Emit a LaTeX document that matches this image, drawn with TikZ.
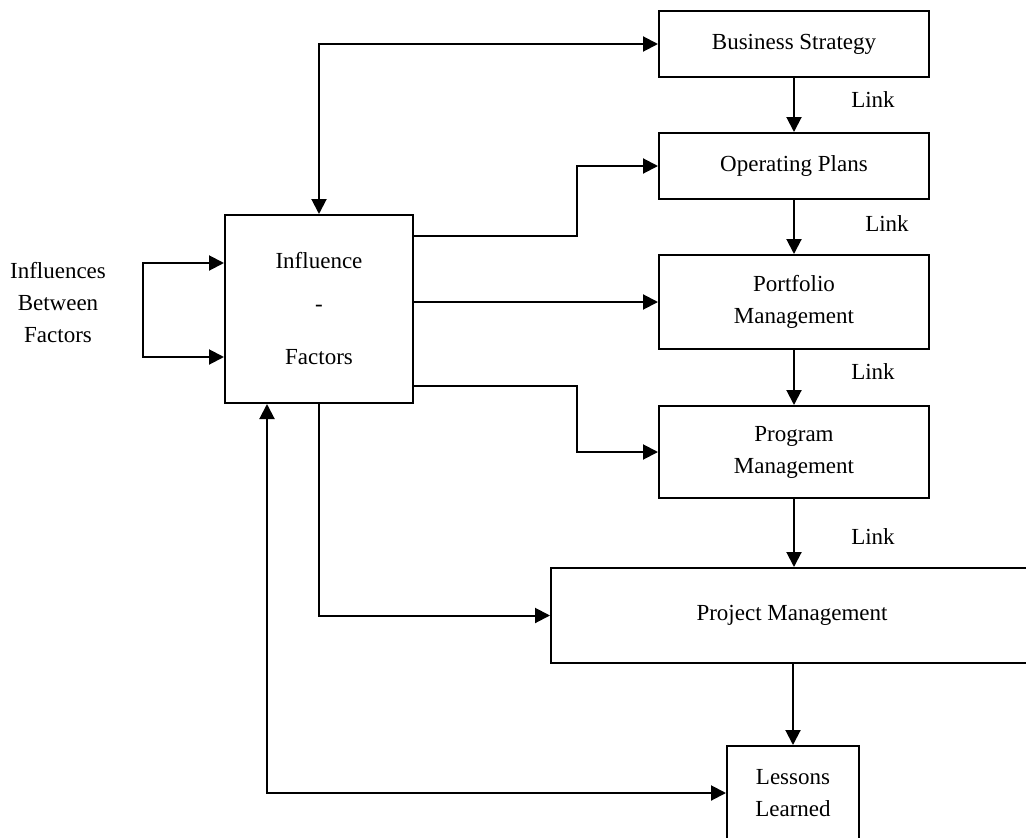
\documentclass[tikz,border=0pt]{standalone}
\usepackage{fontspec}
\setmainfont{Liberation Serif}
\usetikzlibrary{arrows.meta}
\begin{document}
\begin{tikzpicture}[x=1pt,y=-1pt,
  every node/.style={font=\fontsize{23}{32}\selectfont},
  box/.style={draw,line width=2pt,align=center,inner sep=0pt},
  lbl/.style={align=center,inner sep=0pt},
  conn/.style={line width=2pt},
  tip/.style={-{Triangle[length=15pt,width=15pt]}},
  tips/.style={{Triangle[length=15pt,width=15pt]}-{Triangle[length=15pt,width=15pt]}}]
\useasboundingbox (0,0) rectangle (1026,838);

% main chain of planning levels
\node[box,minimum width=270pt,minimum height=66pt] (bs) at (794,44) {Business Strategy};
\node[box,minimum width=270pt,minimum height=66pt] (op) at (794,166) {Operating Plans};
\node[box,minimum width=270pt,minimum height=94pt] (pf) at (794,302) {Portfolio\\Management};
\node[box,minimum width=270pt,minimum height=92pt] (pg) at (794,452) {Program\\Management};
\node[box,minimum width=482pt,minimum height=95pt] (pj) at (792,615.5) {Project Management};
\node[box,minimum width=132pt,minimum height=94pt] (ll) at (793,793) {Lessons\\Learned};

% influence factors block
\node[box,minimum width=188pt,minimum height=188pt] (inf) at (319,309) {Influence\\[11pt]-\\[21pt]Factors};
\node[lbl] (ibf) at (58,303) {Influences\\Between\\Factors};

% link labels
\node[lbl] (l1) at (873,100) {Link};
\node[lbl] (l2) at (887,224) {Link};
\node[lbl] (l3) at (873,372) {Link};
\node[lbl] (l4) at (873,537) {Link};

% vertical links
\draw[conn,tip] (bs.south) -- (op.north);
\draw[conn,tip] (op.south) -- (pf.north);
\draw[conn,tip] (pf.south) -- (pg.north);
\draw[conn,tip] (pg.south) -- (pg.south |- pj.north);
\draw[conn,tip] (ll.north |- pj.south) -- (ll.north);

% influence connections
\draw[conn,tips] (bs.west) -| (inf.north);
\coordinate (o1) at (577,236);
\coordinate (o3) at (577,386);
\draw[conn,tip] (inf.east |- o1) -- (o1) |- (op.west);
\draw[conn,tip] (inf.east |- pf.west) -- (pf.west);
\draw[conn,tip] (inf.east |- o3) -- (o3) |- (pg.west);
\draw[conn,tip] (inf.south) |- (pj.west);
\coordinate (lx) at ([xshift=-52pt]inf.south);
\draw[conn,tips] (ll.west) -| (lx);

% self loop between factors
\coordinate (lp1) at (143,263);
\coordinate (lp2) at (143,357);
\draw[conn,tips] (inf.west |- lp1) -- (lp1) -- (lp2) -- (inf.west |- lp2);
\end{tikzpicture}
\end{document}
